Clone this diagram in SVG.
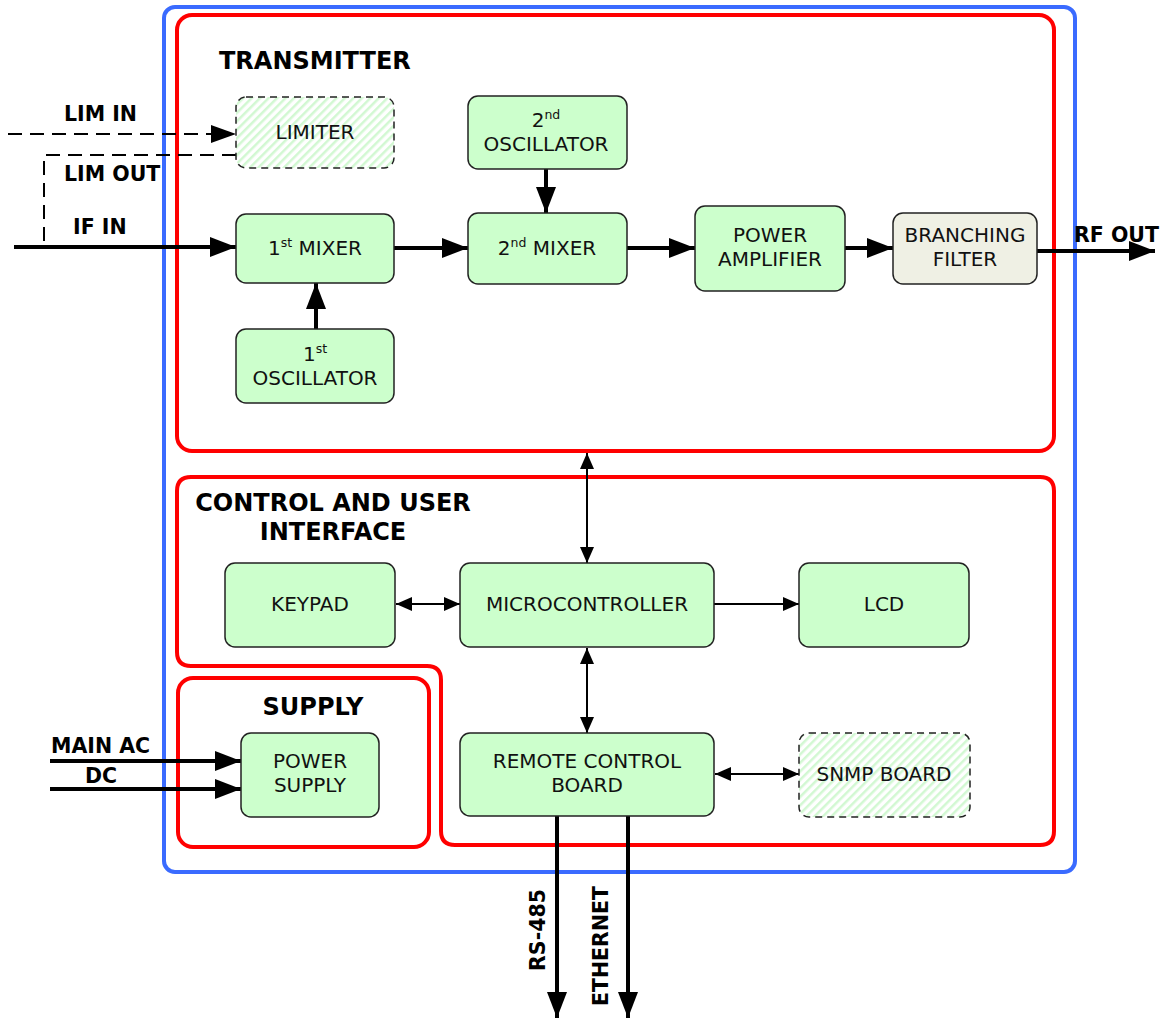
<svg xmlns="http://www.w3.org/2000/svg" width="1164" height="1019" viewBox="0 0 1164 1019">
<style>
.node{fill:#ccffcc;stroke:#222;stroke-width:1.5}
.hatch{fill:url(#hatch);stroke:#222;stroke-width:1.5;stroke-dasharray:7 5}
.bf{fill:#eff0e4;stroke:#222;stroke-width:1.5}
.t{font-family:"DejaVu Sans",Verdana,sans-serif;font-size:20px;fill:#111;text-anchor:middle}
.sup{font-size:12.5px}
.h{font-family:"DejaVu Sans",Verdana,sans-serif;font-weight:bold;font-size:24px;fill:#000}
.l{font-family:"DejaVu Sans",Verdana,sans-serif;font-weight:bold;font-size:20.5px;fill:#000}
.thick{stroke:#000;stroke-width:4;fill:none;marker-end:url(#big)}
.thin{stroke:#000;stroke-width:2;fill:none;marker-end:url(#sm)}
.dbl{stroke:#000;stroke-width:2;fill:none;marker-end:url(#sm);marker-start:url(#sms)}
.dash{stroke:#000;stroke-width:2;fill:none;stroke-dasharray:14 8}
.red{fill:none;stroke:#ff0000;stroke-width:4}
</style>
<defs>
<pattern id="hatch" width="6" height="6" patternUnits="userSpaceOnUse" patternTransform="rotate(45)">
<rect width="6" height="6" fill="#ffffff"/>
<rect width="2.5" height="6" fill="#d2f8d2"/>
</pattern>
<marker id="big" markerUnits="userSpaceOnUse" markerWidth="28" markerHeight="22" refX="26" refY="11" orient="auto">
<path d="M0,1 L26,11 L0,21 Z" fill="#000"/>
</marker>
<marker id="sm" markerUnits="userSpaceOnUse" markerWidth="18" markerHeight="16" refX="16" refY="8" orient="auto">
<path d="M0,1 L16,8 L0,15 Z" fill="#000"/>
</marker>
<marker id="sms" markerUnits="userSpaceOnUse" markerWidth="18" markerHeight="16" refX="0" refY="8" orient="auto">
<path d="M16,1 L0,8 L16,15 Z" fill="#000"/>
</marker>
</defs>
<rect width="1164" height="1019" fill="#fff"/>

<g id="frames">
<rect x="164" y="7" width="911" height="865" rx="11" fill="none" stroke="#3a6bff" stroke-width="4"/>
<rect x="177" y="15" width="877" height="436" rx="15" class="red"/>
<path class="red" d="M191,477 H1040 Q1054,477 1054,491 V831 Q1054,845 1040,845 H455 Q441,845 441,831 V680 Q441,666 427,666 H191 Q177,666 177,652 V491 Q177,477 191,477 Z"/>
<rect x="178" y="678" width="251" height="169" rx="15" class="red"/>
<text class="h" x="219" y="69">TRANSMITTER</text>
<text class="h" x="333" y="511" text-anchor="middle">CONTROL AND USER</text>
<text class="h" x="333" y="540" text-anchor="middle">INTERFACE</text>
<text class="h" x="313" y="715" text-anchor="middle">SUPPLY</text>
</g>

<g id="connectors">
<path class="dash" d="M8,134 H222"/>
<path d="M211,125 L236,134 L211,143 Z" fill="#000"/>
<path class="dash" d="M236,155 H44 V247"/>
<path class="thick" d="M14,247 H236"/>
<path class="thick" d="M316,329 V283"/>
<path class="thick" d="M394,248 H468"/>
<path class="thick" d="M546,169 V213"/>
<path class="thick" d="M627,248 H695"/>
<path class="thick" d="M845,248 H893"/>
<path class="thick" d="M1037,251 H1155"/>
<path class="dbl" d="M587,453 V563"/>
<path class="dbl" d="M396,604 H460"/>
<path class="thin" d="M714,604 H799"/>
<path class="dbl" d="M587,648 V733"/>
<path class="dbl" d="M715,774 H799"/>
<path class="thick" d="M50,761 H241"/>
<path class="thick" d="M50,789 H241"/>
<path class="thick" d="M557,816 V1018"/>
<path class="thick" d="M628,816 V1018"/>
<text class="l" x="64" y="121">LIM IN</text>
<text class="l" x="64" y="181">LIM OUT</text>
<text class="l" x="73" y="234">IF IN</text>
<text class="l" x="1074" y="242">RF OUT</text>
<text class="l" x="51" y="753">MAIN AC</text>
<text class="l" x="85" y="783">DC</text>
<text class="l" transform="translate(545,930) rotate(-90)" text-anchor="middle">RS-485</text>
<text class="l" transform="translate(608,946) rotate(-90)" text-anchor="middle">ETHERNET</text>
</g>

<g id="limiter"><rect x="236" y="97" width="158" height="71" rx="10" class="hatch"/><text class="t" x="315" y="139">LIMITER</text></g>
<g id="mixer1"><rect x="236" y="214" width="158" height="69" rx="10" class="node"/><text class="t" x="315" y="255">1<tspan class="sup" dy="-8">st</tspan><tspan dy="8"> MIXER</tspan></text></g>
<g id="osc1"><rect x="236" y="329" width="158" height="74" rx="10" class="node"/><text class="t" x="315" y="361">1<tspan class="sup" dy="-8">st</tspan></text><text class="t" x="315" y="385">OSCILLATOR</text></g>
<g id="osc2"><rect x="468" y="96" width="159" height="73" rx="10" class="node"/><text class="t" x="546" y="127">2<tspan class="sup" dy="-8">nd</tspan></text><text class="t" x="546" y="151">OSCILLATOR</text></g>
<g id="mixer2"><rect x="468" y="213" width="159" height="71" rx="10" class="node"/><text class="t" x="547" y="255">2<tspan class="sup" dy="-8">nd</tspan><tspan dy="8"> MIXER</tspan></text></g>
<g id="pa"><rect x="695" y="206" width="150" height="85" rx="10" class="node"/><text class="t" x="770" y="242">POWER</text><text class="t" x="770" y="266">AMPLIFIER</text></g>
<g id="bf"><rect x="893" y="213" width="144" height="71" rx="10" class="bf"/><text class="t" x="965" y="242">BRANCHING</text><text class="t" x="965" y="266">FILTER</text></g>
<g id="keypad"><rect x="225" y="563" width="170" height="84" rx="10" class="node"/><text class="t" x="310" y="611">KEYPAD</text></g>
<g id="micro"><rect x="460" y="563" width="254" height="84" rx="10" class="node"/><text class="t" x="587" y="611">MICROCONTROLLER</text></g>
<g id="lcd"><rect x="799" y="563" width="170" height="84" rx="10" class="node"/><text class="t" x="884" y="611">LCD</text></g>
<g id="psu"><rect x="241" y="733" width="138" height="84" rx="10" class="node"/><text class="t" x="310" y="768">POWER</text><text class="t" x="310" y="792">SUPPLY</text></g>
<g id="rcb"><rect x="460" y="733" width="254" height="83" rx="10" class="node"/><text class="t" x="587" y="768">REMOTE CONTROL</text><text class="t" x="587" y="792">BOARD</text></g>
<g id="snmp"><rect x="799" y="733" width="171" height="84" rx="10" class="hatch"/><text class="t" x="884" y="781">SNMP BOARD</text></g>
</svg>
